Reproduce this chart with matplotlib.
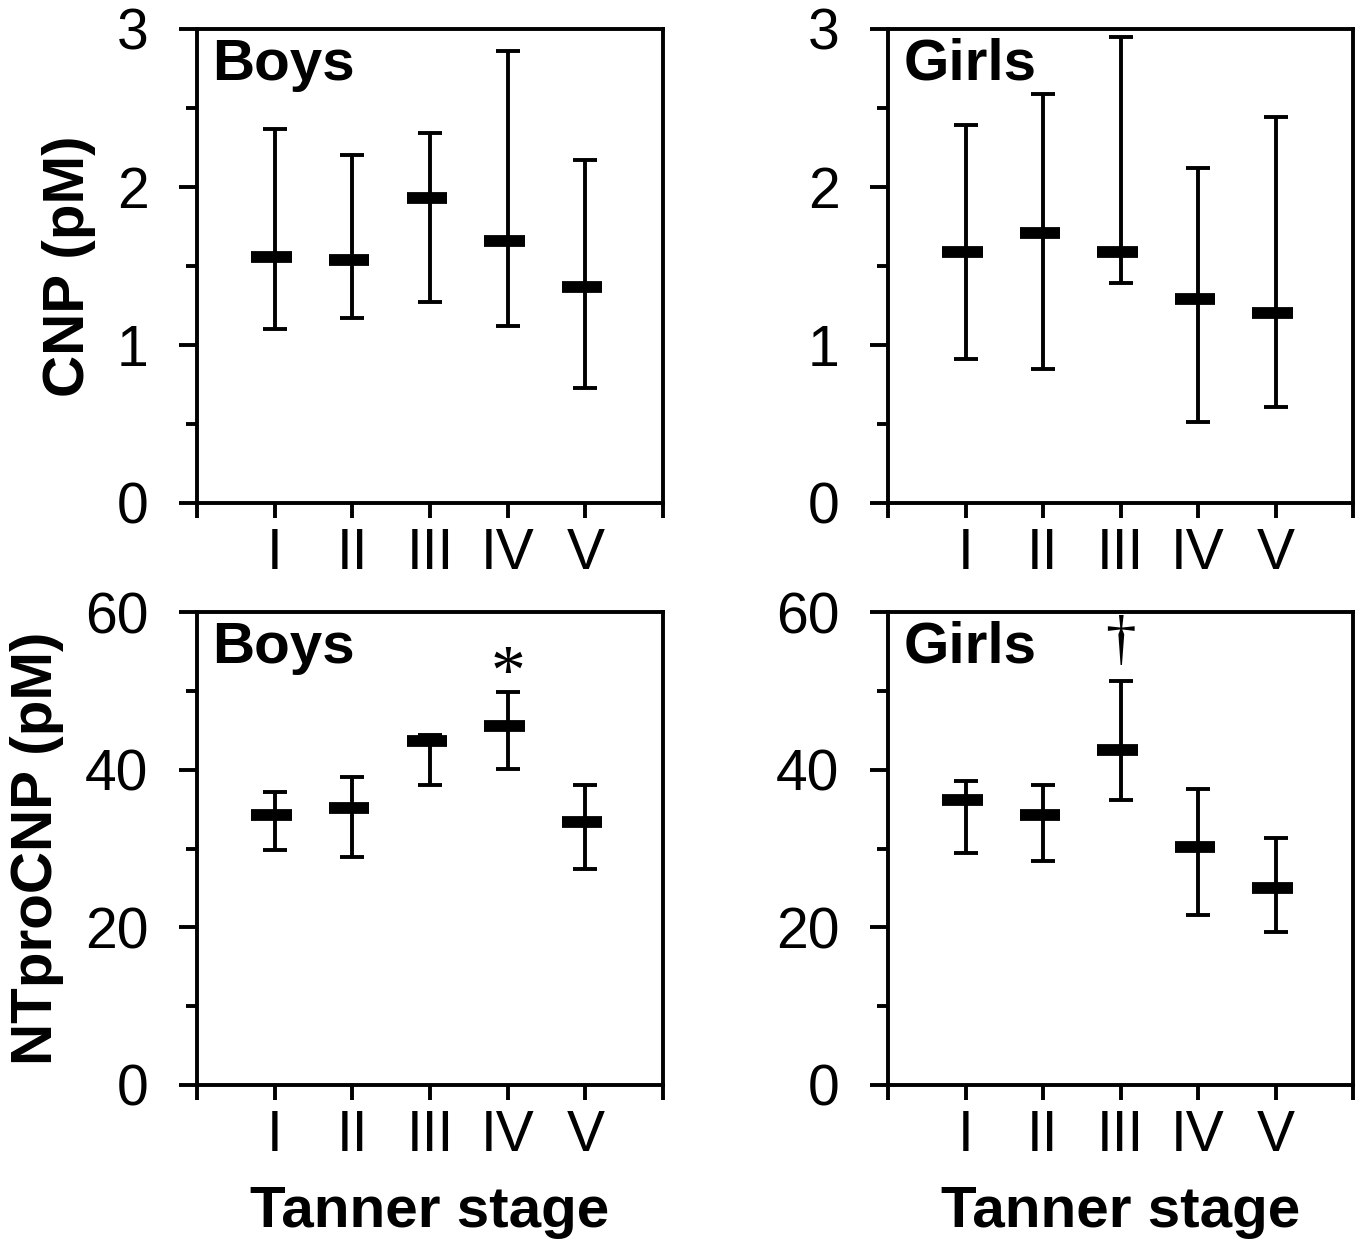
import numpy as np
import matplotlib
matplotlib.use("Agg")
import matplotlib.pyplot as plt
from matplotlib.ticker import MultipleLocator

plt.rcParams['font.family'] = ['Liberation Sans', 'DejaVu Sans']

stages = ["I", "II", "III", "IV", "V"]

# CNP (pM): mean, upper and lower bound of each bar
cnp_boys_mean = [1.56, 1.54, 1.93, 1.66, 1.37]
cnp_boys_hi = [2.37, 2.20, 2.34, 2.86, 2.17]
cnp_boys_lo = [1.10, 1.17, 1.27, 1.12, 0.73]

cnp_girls_mean = [1.59, 1.71, 1.59, 1.29, 1.20]
cnp_girls_hi = [2.39, 2.59, 2.95, 2.12, 2.44]
cnp_girls_lo = [0.91, 0.85, 1.39, 0.51, 0.61]

# NTproCNP (pM)
nt_boys_mean = [34.2, 35.2, 43.6, 45.6, 33.3]
nt_boys_hi = [37.2, 39.1, 44.4, 49.9, 38.1]
nt_boys_lo = [29.8, 28.9, 38.1, 40.1, 27.4]

nt_girls_mean = [36.1, 34.2, 42.5, 30.2, 25.0]
nt_girls_hi = [38.6, 38.1, 51.3, 37.6, 31.3]
nt_girls_lo = [29.4, 28.4, 36.2, 21.6, 19.4]

fig = plt.figure(figsize=(13.63, 12.39), dpi=100)

W, H = 1363, 1239
def box(l, r, t, b):
    return [l / W, 1 - b / H, (r - l) / W, (b - t) / H]

panels = [
    (box(197, 663, 29, 503), cnp_boys_mean, cnp_boys_hi, cnp_boys_lo, "Boys", 3, 1, 0.5, "CNP (pM)", False),
    (box(888, 1353, 29, 503), cnp_girls_mean, cnp_girls_hi, cnp_girls_lo, "Girls", 3, 1, 0.5, None, False),
    (box(197, 663, 612, 1085), nt_boys_mean, nt_boys_hi, nt_boys_lo, "Boys", 60, 20, 10, "NTproCNP (pM)", True),
    (box(888, 1353, 612, 1085), nt_girls_mean, nt_girls_hi, nt_girls_lo, "Girls", 60, 20, 10, None, True),
]

x = np.arange(1, len(stages) + 1)
axes = []
for rect, mean, hi, lo, title, ymax, major, minor, ylab, bottom in panels:
    ax = fig.add_axes(rect)
    mean = np.array(mean); hi = np.array(hi); lo = np.array(lo)
    ax.errorbar(x, mean, yerr=[mean - lo, hi - mean], fmt='none', ecolor='black',
                elinewidth=2.8, capsize=8.3, capthick=2.8)
    ax.hlines(mean, x - 0.30, x + 0.22, colors='black', linewidth=8.5)
    ax.set_xlim(0, 6)
    ax.set_ylim(0, ymax)
    ax.set_xticks(np.arange(0, 7))
    ax.set_xticklabels([""] + stages + [""])
    ax.yaxis.set_major_locator(MultipleLocator(major))
    ax.yaxis.set_minor_locator(MultipleLocator(minor))
    ax.tick_params(axis='y', which='major', direction='out', length=13, width=2.8,
                   labelsize=41, pad=22)
    ax.tick_params(axis='y', which='minor', direction='out', length=8, width=2.8)
    ax.tick_params(axis='x', which='major', direction='out', length=11, width=2.8,
                   labelsize=41, pad=6)
    for s in ax.spines.values():
        s.set_linewidth(2.8)
    ax.text(0.033, 0.893, title, transform=ax.transAxes, fontsize=42,
            fontweight='bold', va='baseline', ha='left')
    if ylab:
        ax.set_ylabel(ylab, fontsize=42, fontweight='bold', labelpad=15)
    if bottom:
        ax.set_xlabel("Tanner stage", fontsize=42, fontweight='bold', labelpad=16)
    axes.append(ax)

# significance marks
axes[2].text(4, 51.8, "*", fontsize=50, ha='center', va='center',
             family=['Liberation Serif', 'DejaVu Serif'])
axes[3].text(3, 56.0, "\u2020", fontsize=44, ha='center', va='center',
             family=['Liberation Serif', 'DejaVu Serif'])

fig.savefig("out.png", dpi=100)
